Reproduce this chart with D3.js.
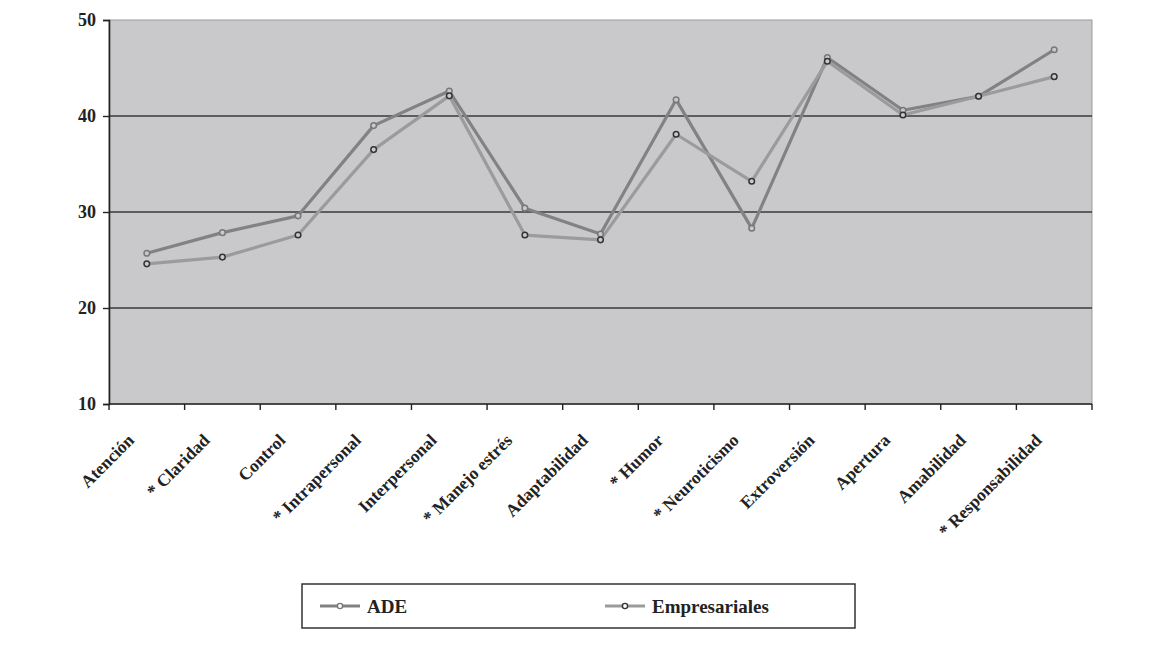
<!DOCTYPE html>
<html><head><meta charset="utf-8">
<script src="https://cdn.jsdelivr.net/npm/d3@7"></script>
<style>body{margin:0;background:#fff;} svg{display:block;}</style>
</head><body>
<script>
const categories = ["Atención","* Claridad","Control","* Intrapersonal","Interpersonal","* Manejo estrés","Adaptabilidad","* Humor","* Neuroticismo","Extroversión","Apertura","Amabilidad","* Responsabilidad"];
const ade = [25.7,27.85,29.6,39.0,42.6,30.4,27.7,41.7,28.3,46.1,40.6,42.05,46.9];
const empresariales = [24.6,25.3,27.6,36.5,42.1,27.6,27.1,38.1,33.2,45.7,40.1,42.05,44.1];
const yTicks = [10,20,30,40,50];
const seriesNames = ["ADE","Empresariales"];

const W=1164,H=648;
const svg=d3.select("body").append("svg").attr("width",W).attr("height",H);
const L=109,R=1092,T=20,B=404;
const font="'Liberation Serif','Times New Roman',serif";

const x=d3.scaleBand().domain(categories).range([L,R]).padding(0);
const y=d3.scaleLinear().domain([10,50]).range([B,T]);

svg.append("rect").attr("x",L).attr("y",T).attr("width",R-L).attr("height",B-T)
  .attr("fill","#c9c9cb").attr("stroke","#9a9a9a").attr("stroke-width",1);

// grid
svg.append("g").selectAll("line").data(yTicks.filter(d=>d>10&&d<50)).join("line")
  .attr("x1",L).attr("x2",R).attr("y1",d=>y(d)).attr("y2",d=>y(d))
  .attr("stroke","#3a3a3a").attr("stroke-width",1.6);

// y axis
const ya=svg.append("g").attr("transform",`translate(${L},0)`)
  .call(d3.axisLeft(y).tickValues(yTicks).tickSize(6).tickFormat(d3.format("d")));
ya.select(".domain").attr("stroke","#222").attr("stroke-width",1.6);
ya.selectAll(".tick line").attr("stroke","#222").attr("stroke-width",1.4);
ya.selectAll("text").attr("font-family",font).attr("font-weight","bold").attr("font-size",18).attr("fill","#222").attr("x",-13);

// x axis with ticks at boundaries
const xa=svg.append("g").attr("transform",`translate(0,${B})`);
xa.append("line").attr("x1",L).attr("x2",R).attr("stroke","#222").attr("stroke-width",1.6);
const bounds=categories.map(c=>x(c)).concat([R]);
xa.selectAll("line.tk").data(bounds).join("line").attr("class","tk")
  .attr("x1",d=>d).attr("x2",d=>d).attr("y1",0).attr("y2",6).attr("stroke","#222").attr("stroke-width",1.4);
xa.selectAll("text").data(categories).join("text")
  .attr("transform",d=>`translate(${x(d)+x.bandwidth()/2-16},${33}) rotate(-45)`)
  .attr("text-anchor","end").attr("dy","0.35em")
  .attr("font-family",font).attr("font-weight","bold").attr("font-size",17.5).attr("fill","#222")
  .text(d=>d);

const cx=c=>x(c)+x.bandwidth()/2;
const line=d3.line().x((d,i)=>cx(categories[i])).y(d=>y(d));

const styles=[
  {data:ade,color:"#828282",mk:"#777"},
  {data:empresariales,color:"#9b9b9b",mk:"#333"}
];
styles.forEach(s=>{
  svg.append("path").datum(s.data).attr("d",line).attr("fill","none")
    .attr("stroke",s.color).attr("stroke-width",3.2).attr("stroke-linejoin","round");
});
styles.forEach(s=>{
  svg.append("g").selectAll("circle").data(s.data).join("circle")
    .attr("cx",(d,i)=>cx(categories[i])).attr("cy",d=>y(d)).attr("r",2.8)
    .attr("fill","#c9c9cb").attr("stroke",s.mk).attr("stroke-width",1.5);
});

// legend
const lg=svg.append("g");
lg.append("rect").attr("x",302).attr("y",584).attr("width",553).attr("height",44)
  .attr("fill","#fff").attr("stroke","#333").attr("stroke-width",1.5);
const lx=[320,605];
seriesNames.forEach((n,i)=>{
  const s=styles[i];
  lg.append("line").attr("x1",lx[i]).attr("x2",lx[i]+40).attr("y1",606).attr("y2",606)
    .attr("stroke",s.color).attr("stroke-width",3);
  lg.append("circle").attr("cx",lx[i]+20).attr("cy",606).attr("r",2.6)
    .attr("fill","#fff").attr("stroke",s.mk).attr("stroke-width",1.4);
  lg.append("text").attr("x",lx[i]+47).attr("y",606).attr("dy","0.35em")
    .attr("font-family",font).attr("font-weight","bold").attr("font-size",19).attr("fill","#222").text(n);
});
</script>
</body></html>
